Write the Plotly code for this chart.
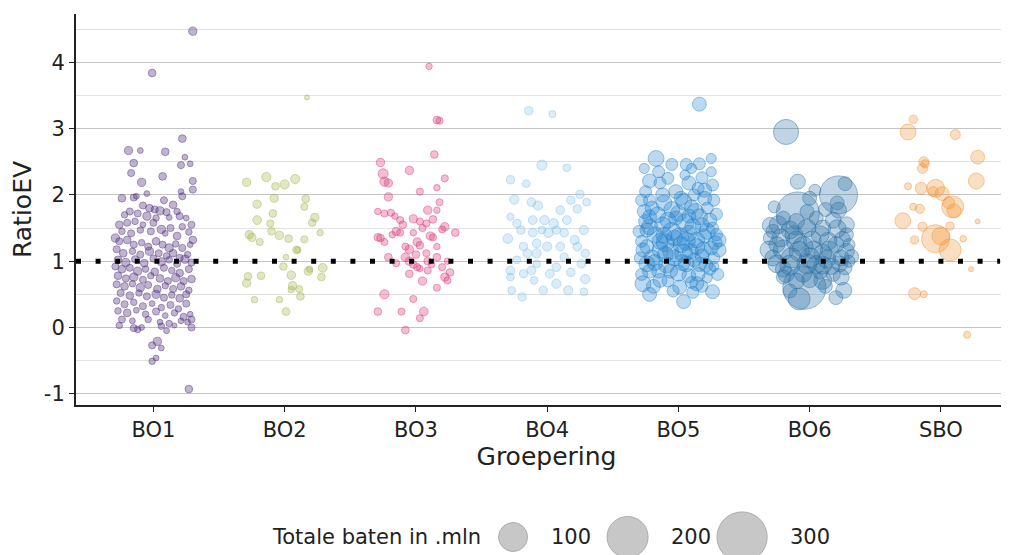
import plotly.graph_objects as go

# groeperingen en kleuren
categories = ["BO1", "BO2", "BO3", "BO4", "BO5", "BO6", "SBO"]
colors = ["74,42,122", "160,180,70", "217,52,120", "125,193,232",
          "30,128,205", "40,112,165", "240,146,47"]
alphas = [0.5, 0.45, 0.45, 0.4, 0.42, 0.42, 0.42]
y_ticks = [-1, 0, 1, 2, 3, 4]

# per groep: (jitter, RatioEV, totale baten in mln)
bo1 = [
    (0.30, 4.47, 8), (-0.01, 3.84, 7), (0.22, 2.85, 7), (-0.19, 2.67, 8), (-0.10, 2.67, 4),
    (0.09, 2.65, 7), (0.24, 2.57, 4), (-0.15, 2.48, 7), (0.21, 2.45, 6), (0.28, 2.47, 4),
    (-0.17, 2.33, 6), (0.07, 2.28, 7), (-0.09, 2.19, 8), (0.30, 2.21, 6), (0.21, 2.05, 4),
    (0.30, 2.08, 6), (-0.05, 2.02, 4), (-0.24, 1.95, 7), (-0.15, 1.96, 6), (-0.13, 1.98, 4),
    (0.22, 1.98, 6), (0.08, 1.92, 6),
    (-0.08, 1.84, 6), (-0.03, 1.80, 7), (0.01, 1.78, 6), (0.05, 1.76, 8), (0.10, 1.74, 6),
    (0.15, 1.85, 7), (0.18, 1.75, 5), (-0.18, 1.75, 6), (-0.22, 1.70, 5), (-0.12, 1.72, 6),
    (-0.05, 1.68, 8), (0.02, 1.65, 5), (0.12, 1.66, 4), (0.20, 1.68, 6), (0.25, 1.65, 4),
    (-0.26, 1.55, 7), (-0.20, 1.58, 6), (-0.14, 1.60, 5), (-0.08, 1.55, 4), (0.00, 1.58, 6),
    (0.06, 1.48, 8), (0.13, 1.50, 6), (0.22, 1.52, 5), (0.29, 1.55, 6), (-0.24, 1.45, 5),
    (-0.17, 1.42, 6), (-0.10, 1.47, 5), (-0.02, 1.45, 6), (0.09, 1.42, 4), (0.18, 1.38, 7),
    (0.27, 1.44, 5), (0.30, 1.32, 7),
    (-0.29, 1.35, 8), (-0.26, 1.30, 6), (-0.20, 1.32, 7), (-0.15, 1.25, 6), (-0.09, 1.28, 5),
    (-0.04, 1.22, 6), (0.02, 1.30, 7), (0.07, 1.25, 6), (0.12, 1.20, 8), (0.17, 1.26, 5),
    (0.22, 1.20, 6), (0.28, 1.25, 4), (-0.28, 1.18, 6), (-0.23, 1.12, 7), (-0.16, 1.15, 5),
    (-0.10, 1.10, 6), (-0.03, 1.15, 8), (0.04, 1.12, 6), (0.10, 1.08, 5), (0.15, 1.12, 7),
    (0.20, 1.05, 6), (0.26, 1.10, 5), (-0.27, 1.02, 7), (-0.21, 0.98, 8), (-0.14, 1.03, 6),
    (-0.07, 0.97, 7), (0.00, 1.04, 6), (0.06, 0.99, 8), (0.12, 1.02, 5), (0.18, 0.96, 6),
    (0.24, 1.03, 8), (0.29, 0.98, 6),
    (-0.29, 0.92, 6), (-0.24, 0.88, 7), (-0.18, 0.90, 6), (-0.12, 0.85, 8), (-0.06, 0.88, 5),
    (0.01, 0.84, 7), (0.08, 0.90, 6), (0.14, 0.86, 5), (0.20, 0.82, 7), (0.27, 0.88, 6),
    (-0.27, 0.78, 7), (-0.21, 0.74, 6), (-0.15, 0.76, 8), (-0.08, 0.72, 6), (-0.02, 0.78, 5),
    (0.05, 0.74, 7), (0.11, 0.70, 6), (0.17, 0.75, 8), (0.23, 0.70, 6), (0.29, 0.73, 7),
    (-0.28, 0.65, 6), (-0.22, 0.62, 7), (-0.16, 0.66, 5), (-0.10, 0.60, 8), (-0.04, 0.64, 6),
    (0.03, 0.58, 7), (0.09, 0.63, 5), (0.15, 0.58, 6), (0.21, 0.62, 7), (0.27, 0.56, 5),
    (-0.25, 0.52, 6), (-0.18, 0.48, 7), (-0.11, 0.52, 5), (-0.05, 0.47, 6), (0.02, 0.50, 8),
    (0.08, 0.45, 6), (0.14, 0.49, 5), (0.20, 0.44, 7), (0.25, 0.50, 6),
    (-0.28, 0.40, 5), (-0.22, 0.35, 6), (-0.15, 0.38, 5), (-0.08, 0.32, 6), (-0.01, 0.36, 4),
    (0.06, 0.30, 5), (0.13, 0.34, 6), (0.19, 0.28, 5), (0.25, 0.36, 6), (-0.27, 0.25, 5),
    (-0.20, 0.22, 7), (-0.13, 0.26, 4), (-0.06, 0.20, 5), (0.02, 0.24, 6), (0.09, 0.18, 4),
    (0.16, 0.22, 5), (0.23, 0.16, 6), (0.28, 0.20, 4), (-0.24, 0.12, 6), (-0.16, 0.10, 4),
    (-0.04, 0.12, 5), (0.05, 0.08, 4), (0.12, 0.06, 5), (0.21, 0.10, 4), (0.29, 0.12, 6),
    (-0.26, 0.03, 5), (-0.15, -0.01, 6), (-0.12, -0.03, 5), (-0.09, 0.00, 4), (0.06, 0.02, 5),
    (0.10, -0.05, 4), (0.16, 0.03, 3), (0.26, 0.08, 4), (0.29, 0.00, 6),
    (-0.01, -0.27, 6), (0.03, -0.21, 8), (0.06, -0.31, 4), (-0.01, -0.51, 5), (0.02, -0.46, 4),
    (0.27, -0.93, 7),
]
bo2 = [
    (0.17, 3.47, 3), (-0.29, 2.19, 8), (-0.14, 2.27, 10), (-0.07, 2.13, 7), (0.00, 2.16, 10),
    (0.08, 2.24, 10), (-0.21, 1.86, 8), (-0.08, 1.95, 8), (0.16, 1.94, 7), (0.15, 1.82, 6),
    (-0.09, 1.72, 7), (-0.21, 1.62, 9), (-0.11, 1.57, 6), (0.23, 1.66, 8), (0.21, 1.58, 7),
    (-0.27, 1.40, 8), (-0.25, 1.36, 8), (-0.19, 1.29, 6), (-0.10, 1.45, 7), (-0.04, 1.39, 8),
    (0.03, 1.34, 7), (0.15, 1.33, 6), (0.27, 1.43, 5), (0.09, 1.17, 7), (0.10, 1.17, 5),
    (0.01, 1.06, 4), (-0.01, 0.92, 7), (0.05, 0.79, 9), (0.18, 0.85, 8), (0.19, 0.88, 5),
    (0.29, 0.90, 9), (0.28, 0.76, 7), (-0.28, 0.77, 7), (-0.29, 0.67, 8), (-0.18, 0.78, 7),
    (0.06, 0.63, 8), (0.05, 0.57, 5), (0.11, 0.58, 6), (0.12, 0.47, 7), (-0.04, 0.42, 5),
    (-0.23, 0.42, 5), (0.01, 0.24, 7),
]
bo3 = [
    (0.10, 3.94, 5), (0.16, 3.13, 7), (0.18, 3.12, 6), (0.14, 2.61, 7), (-0.27, 2.49, 8),
    (-0.05, 2.37, 8), (-0.25, 2.32, 12), (-0.24, 2.20, 10), (-0.21, 2.18, 8), (0.22, 2.25, 6),
    (0.03, 2.05, 6), (0.16, 2.11, 5), (-0.21, 1.97, 8), (0.18, 1.89, 6), (-0.29, 1.75, 5),
    (-0.24, 1.72, 6), (-0.19, 1.73, 6), (-0.16, 1.68, 5), (-0.12, 1.62, 6), (0.09, 1.77, 8),
    (0.16, 1.77, 5), (-0.02, 1.64, 8), (0.03, 1.60, 6), (0.08, 1.57, 6), (0.13, 1.63, 7),
    (0.22, 1.52, 8), (0.30, 1.43, 7), (-0.29, 1.36, 7), (-0.27, 1.35, 7), (-0.24, 1.29, 6),
    (-0.15, 1.45, 8), (-0.12, 1.43, 6), (-0.02, 1.43, 5), (0.11, 1.38, 8), (0.13, 1.36, 6),
    (0.01, 1.29, 8), (0.03, 1.24, 7), (-0.08, 1.22, 6), (0.16, 1.22, 5), (-0.21, 1.06, 7),
    (-0.08, 1.06, 9), (-0.05, 1.00, 8), (-0.02, 0.95, 7), (0.01, 0.91, 6), (0.09, 1.00, 7),
    (0.16, 1.06, 7), (0.20, 0.91, 6), (0.24, 1.00, 5), (-0.05, 0.81, 7), (0.03, 0.89, 5),
    (0.09, 0.86, 6), (0.22, 0.76, 8), (0.24, 0.71, 6), (0.26, 0.83, 7), (0.16, 0.60, 6),
    (-0.24, 0.50, 10), (-0.02, 0.43, 6), (-0.29, 0.24, 7), (-0.11, 0.24, 6), (0.06, 0.24, 9),
    (0.03, 0.14, 6), (-0.08, -0.04, 7), (-0.10, 1.55, 7), (0.05, 1.50, 6), (-0.05, 1.18, 8),
    (0.08, 1.12, 6), (0.12, 0.95, 5), (-0.15, 0.97, 6), (0.00, 1.10, 7), (0.05, 0.70, 8),
    (0.20, 1.48, 6), (-0.18, 1.40, 5),
]
bo4 = [
    (-0.14, 3.27, 8), (0.04, 3.22, 6), (-0.04, 2.45, 12), (0.15, 2.41, 7), (-0.28, 2.23, 8),
    (-0.16, 2.17, 7), (-0.25, 1.93, 10), (-0.12, 1.89, 9), (0.25, 2.01, 8), (0.30, 1.89, 7),
    (-0.07, 1.84, 10), (0.18, 1.92, 8), (0.10, 1.77, 9), (0.23, 1.79, 8), (-0.02, 1.62, 10),
    (-0.11, 1.62, 9), (-0.28, 1.67, 6), (0.05, 1.57, 11), (0.28, 1.47, 10), (0.13, 1.43, 8),
    (-0.30, 1.34, 11), (-0.20, 1.47, 8), (-0.08, 1.27, 9), (0.00, 1.22, 10), (0.07, 1.47, 8),
    (0.23, 1.22, 9), (0.29, 1.12, 8), (-0.15, 1.12, 9), (-0.23, 1.02, 7), (0.13, 1.06, 8),
    (-0.28, 0.86, 9), (-0.18, 0.81, 8), (-0.08, 0.96, 7), (0.07, 0.91, 9), (0.18, 0.83, 8),
    (0.29, 0.73, 10), (-0.28, 0.76, 7), (0.07, 0.66, 10), (0.16, 0.56, 10), (-0.03, 0.56, 8),
    (0.28, 0.54, 7), (-0.19, 0.46, 8), (-0.10, 0.71, 7), (0.02, 0.81, 9), (-0.11, 1.43, 9),
    (-0.04, 1.47, 7), (0.15, 1.62, 9), (-0.23, 1.57, 8), (0.01, 1.43, 11), (0.21, 1.32, 10),
    (-0.18, 1.22, 8), (0.10, 1.22, 9), (-0.08, 1.12, 10), (0.26, 0.96, 8), (-0.12, 0.86, 9),
    (-0.27, 0.56, 7),
]
bo5 = [
    (0.16, 3.37, 23), (-0.17, 2.55, 30), (-0.05, 2.46, 17), (0.06, 2.46, 17), (0.16, 2.47, 17),
    (0.25, 2.55, 12), (-0.22, 2.21, 23), (-0.14, 2.18, 17), (0.08, 2.18, 23), (0.18, 2.26, 17),
    (0.20, 2.07, 23), (-0.28, 1.92, 17), (0.27, 1.92, 17), (-0.11, 1.88, 30), (0.04, 1.90, 30),
    (-0.22, 1.67, 23), (-0.02, 1.65, 23), (0.16, 1.67, 30), (0.29, 1.71, 17), (-0.24, 1.47, 23),
    (-0.11, 1.39, 30), (0.01, 1.37, 38), (0.14, 1.32, 30), (0.31, 1.32, 23), (-0.27, 1.17, 23),
    (-0.14, 1.17, 30), (0.04, 1.12, 38), (0.19, 1.17, 30), (0.31, 1.17, 23), (-0.24, 0.96, 30),
    (-0.09, 0.94, 30), (0.06, 0.96, 30), (0.21, 0.94, 23), (0.27, 0.92, 12), (-0.27, 0.66, 30),
    (-0.14, 0.71, 23), (0.01, 0.61, 23), (0.14, 0.66, 23), (0.26, 0.54, 23), (-0.22, 0.50, 23),
    (0.04, 0.39, 23), (0.11, 0.53, 17),
    (-0.20, 1.80, 23), (-0.05, 1.78, 30), (0.10, 1.82, 23), (0.22, 1.80, 17), (-0.25, 1.60, 23),
    (-0.12, 1.55, 30), (0.05, 1.58, 38), (0.18, 1.55, 23), (0.26, 1.50, 17), (-0.18, 1.40, 30),
    (-0.05, 1.45, 38), (0.08, 1.42, 30), (0.20, 1.38, 23), (-0.28, 1.30, 17), (-0.10, 1.28, 38),
    (0.02, 1.25, 30), (0.14, 1.22, 30), (0.25, 1.20, 23), (-0.20, 1.05, 30), (-0.03, 1.05, 30),
    (0.12, 1.02, 23), (0.27, 1.05, 17), (-0.15, 0.85, 23), (0.00, 0.82, 30), (0.15, 0.80, 23),
    (-0.28, 0.80, 17), (-0.08, 0.70, 17), (0.10, 0.68, 17), (0.22, 0.75, 12), (-0.22, 1.92, 17),
    (0.12, 2.00, 17), (-0.02, 2.05, 23), (0.20, 1.95, 23), (-0.15, 2.35, 17), (0.05, 2.30, 12),
    (0.25, 2.35, 12), (-0.26, 2.40, 12),
    (-0.26, 1.75, 23), (-0.16, 1.70, 30), (-0.08, 1.62, 30), (0.00, 1.72, 30), (0.08, 1.68, 23),
    (0.13, 1.75, 30), (0.24, 1.62, 23), (-0.22, 1.52, 30), (-0.14, 1.30, 30), (-0.03, 1.35, 30),
    (0.06, 1.30, 38), (0.11, 1.52, 30), (0.22, 1.45, 30), (0.29, 1.40, 17), (-0.24, 1.22, 23),
    (-0.06, 1.15, 30), (0.09, 1.15, 30), (0.18, 1.08, 23), (-0.18, 0.98, 30), (-0.10, 1.10, 30),
    (0.03, 0.98, 30), (0.16, 0.95, 23), (0.24, 0.88, 17), (-0.22, 0.85, 23), (-0.06, 0.85, 23),
    (0.08, 0.78, 23), (-0.19, 0.62, 23), (-0.04, 0.55, 17), (0.18, 0.62, 17), (-0.12, 2.00, 23),
    (0.02, 1.95, 23), (0.15, 2.10, 17), (0.26, 2.15, 17), (-0.08, 2.25, 17), (0.10, 2.40, 12),
    (-0.25, 2.05, 17), (0.28, 1.28, 23), (0.30, 0.80, 17), (-0.29, 1.05, 17), (-0.30, 1.45, 17),
]
bo6 = [
    (-0.18, 2.95, 75), (-0.09, 2.20, 27), (0.04, 2.07, 17), (0.22, 2.00, 172), (0.27, 2.17, 23),
    (-0.09, 1.72, 220), (-0.27, 1.82, 17), (0.00, 1.95, 23), (0.22, 1.77, 30), (0.21, 1.88, 23),
    (-0.30, 1.54, 30), (-0.24, 1.55, 38), (-0.15, 1.47, 38), (-0.02, 1.50, 38), (0.10, 1.50, 30),
    (0.21, 1.49, 38), (0.28, 1.55, 30), (-0.31, 1.17, 38), (-0.20, 1.17, 48), (-0.08, 1.15, 48),
    (0.03, 1.17, 38), (0.15, 1.17, 38), (0.28, 1.15, 30), (-0.25, 0.96, 38), (-0.15, 0.94, 48),
    (-0.02, 0.96, 48), (0.10, 0.94, 38), (0.23, 0.96, 30), (0.32, 1.07, 23), (-0.04, 0.60, 220),
    (-0.08, 0.43, 57), (0.10, 0.71, 38), (0.24, 0.76, 30), (0.26, 0.56, 30), (-0.20, 0.76, 23),
    (-0.22, 1.35, 38), (-0.10, 1.30, 48), (0.02, 1.32, 38), (0.14, 1.30, 38), (0.25, 1.33, 30),
    (-0.28, 1.05, 30), (-0.14, 1.05, 48), (0.00, 1.05, 48), (0.13, 1.03, 38), (0.24, 1.05, 30),
    (-0.18, 0.80, 30), (-0.05, 0.82, 38), (0.08, 0.85, 30), (0.18, 0.80, 23), (-0.10, 1.60, 30),
    (0.05, 1.65, 23), (0.18, 1.62, 30), (0.30, 1.00, 17), (-0.30, 1.35, 23), (0.27, 0.90, 23),
    (-0.25, 1.25, 30), (-0.12, 1.40, 38), (0.08, 1.40, 38), (0.20, 1.25, 30), (-0.05, 1.22, 48),
    (0.10, 1.12, 38), (-0.20, 0.88, 30), (0.05, 0.95, 38), (0.17, 0.92, 30), (-0.10, 0.70, 30),
    (0.12, 0.62, 23), (0.20, 0.45, 23), (-0.15, 0.55, 23), (-0.02, 1.75, 23), (0.12, 1.78, 23),
    (-0.20, 1.65, 23), (0.28, 1.40, 23), (-0.28, 1.45, 23), (0.00, 0.72, 30), (0.30, 1.25, 17),
]
sbo = [
    (-0.21, 3.14, 8), (-0.25, 2.95, 30), (0.11, 2.91, 12), (0.28, 2.57, 23), (-0.13, 2.50, 12),
    (-0.14, 2.40, 12), (-0.12, 2.47, 8), (0.27, 2.21, 30), (-0.25, 2.13, 6), (-0.15, 2.10, 17),
    (-0.04, 2.10, 38), (-0.06, 2.05, 12), (0.01, 2.02, 23), (0.09, 1.82, 57), (0.06, 1.88, 17),
    (0.10, 1.76, 23), (-0.21, 1.82, 6), (-0.16, 1.79, 10), (0.28, 1.60, 3), (-0.29, 1.61, 30),
    (-0.14, 1.52, 10), (0.07, 1.53, 8), (-0.20, 1.32, 8), (-0.04, 1.34, 93), (0.00, 1.38, 38),
    (0.07, 1.17, 57), (0.17, 1.34, 5), (0.23, 0.88, 3), (-0.20, 0.51, 17), (-0.13, 0.50, 6),
    (0.20, -0.11, 6),
]
groups = [bo1, bo2, bo3, bo4, bo5, bo6, sbo]

# legenda voor puntgrootte
legend_values = [100, 200, 300]

# schaal: diameter = 2.9 * sqrt(waarde)
sizeref = 2 / 2.9 ** 2

fig = go.Figure()
for i, (name, pts, col, a) in enumerate(zip(categories, groups, colors, alphas)):
    fig.add_trace(go.Scatter(
        x=[i + p[0] for p in pts], y=[p[1] for p in pts], mode="markers", name=name,
        marker=dict(size=[p[2] for p in pts], sizemode="area", sizeref=sizeref,
                    color="rgba(%s,%s)" % (col, a),
                    line=dict(color="rgba(%s,0.7)" % col, width=1)),
        showlegend=False, hoverinfo="skip"))

fig.add_trace(go.Scatter(
    x=list(range(len(legend_values))), y=[0] * len(legend_values), mode="markers",
    xaxis="x2", yaxis="y2", showlegend=False, hoverinfo="skip",
    marker=dict(size=legend_values, sizemode="area", sizeref=sizeref,
                color="#b0b0b0", line=dict(color="#8a8a8a", width=1))))

font = dict(family="DejaVu Sans", size=21, color="#222222")
annotations = [dict(text="Totale baten in .mln", xref="paper", yref="y2", x=0.4325, y=0,
                    xanchor="right", showarrow=False, font=font)]
for i, v in enumerate(legend_values):
    annotations.append(dict(text=str(v), xref="x2", yref="y2", x=i, y=0, xanchor="left",
                            xshift=1.45 * v ** 0.5 + 21, showarrow=False, font=font))

# de pagina heeft 8px marge, daarom iets kleinere marges links/boven
fig.update_layout(
    width=1009, height=555, margin=dict(l=68, r=0, t=6, b=0),
    plot_bgcolor="white", paper_bgcolor="white", font=font,
    xaxis=dict(range=[-0.59, 6.58], tickvals=list(range(7)), ticktext=categories,
               showgrid=False, zeroline=False, showline=True, linecolor="#222222",
               linewidth=2, ticks="outside", ticklen=5, tickcolor="#222222",
               title=dict(text="Groepering", standoff=4), anchor="y"),
    yaxis=dict(domain=[0.2878, 1], range=[-1.17, 4.73], tickvals=y_ticks,
               ticktext=[str(t) for t in y_ticks], showgrid=True,
               gridcolor="#c4c4c4", gridwidth=1, zeroline=False, showline=True,
               linecolor="#222222", linewidth=2, ticks="outside", ticklen=5,
               tickcolor="#222222", title=dict(text="RatioEV", standoff=8),
               minor=dict(dtick=0.5, showgrid=True, gridcolor="#e2e2e2", gridwidth=1)),
    xaxis2=dict(domain=[0, 1], range=[-3.817, 4.401], visible=False, anchor="y2"),
    yaxis2=dict(domain=[0, 0.0947], range=[-1, 1], visible=False, anchor="x2"),
    shapes=[dict(type="line", xref="paper", yref="y", x0=0, x1=0.982, y0=1, y1=1,
                 line=dict(color="black", width=5, dash="5px,14.6px"))],
    annotations=annotations,
)

fig.write_html("out.html")
